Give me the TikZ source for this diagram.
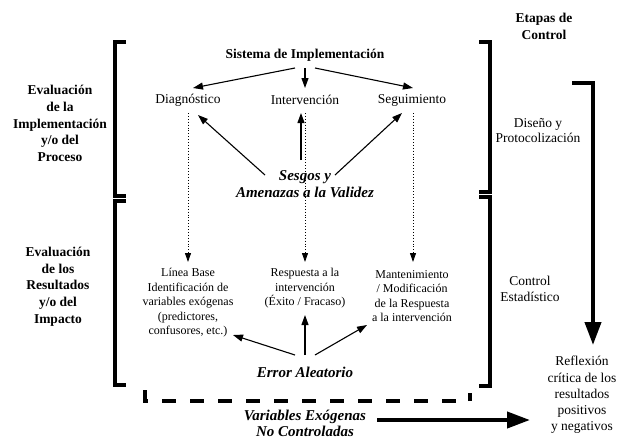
\documentclass[tikz,border=0pt]{standalone}
\usepackage{fontspec}
\setmainfont{Liberation Serif}
\usetikzlibrary{arrows.meta,calc}
\begin{document}
\begin{tikzpicture}[x=1pt,y=-1pt,
  lbl/.style={font=\fontsize{13.5}{16.7}\selectfont\bfseries, align=center, inner sep=0pt},
  txt/.style={font=\fontsize{13.5}{15.5}\selectfont, align=center, inner sep=0pt},
  smalltxt/.style={font=\fontsize{12}{14.5}\selectfont, align=center, inner sep=0pt},
  bi/.style={font=\fontsize{15}{17.5}\selectfont\bfseries\itshape, align=center, inner sep=0pt},
  arr/.style={line width=1.1pt, -{Triangle[length=10pt,width=7pt]}},
  dotarr/.style={line width=0.9pt, dotted, -{Triangle[length=9pt,width=6pt]}},
  bigarr/.style={line width=4pt, -{Triangle[length=23pt,width=16pt]}},
  brk/.style={line width=3.5pt, line join=miter, line cap=butt},
]
\useasboundingbox (0,0) rectangle (625,440);

% nodes
\node[lbl] (etapas) at (544,26.5) {Etapas de\\Control};
\node[lbl] (sis) at (305,55) {Sistema de Implementación};
\node[txt] (diag) at (188,100) {Diagnóstico};
\node[txt] (interv) at (305,100) {Intervención};
\node[txt] (segui) at (412,100) {Seguimiento};
\node[bi] (sesgos) at (305,184) {Sesgos y\\Amenazas a la Validez};
\node[lbl] (left1) at (60,123.5) {Evaluación\\de la\\Implementación\\y/o del\\Proceso};
\node[lbl] (left2) at (58,286.5) {Evaluación\\de los\\Resultados\\y/o del\\Impacto};
\node[txt] (diseno) at (538,130.5) {Diseño y\\Protocolización};
\node[txt] (control) at (530,289) {Control\\Estadístico};
\node[smalltxt] (linea) at (188,303) {Línea Base\\Identificación de\\variables exógenas\\(predictores,\\confusores, etc.)};
\node[smalltxt] (resp) at (305,288.5) {Respuesta a la\\intervención\\(Éxito / Fracaso)};
\node[smalltxt] (mant) at (412,296) {Mantenimiento\\/ Modificación\\de la Respuesta\\a la intervención};
\node[bi] (error) at (305,372) {Error Aleatorio};
\node[bi,font=\fontsize{15}{16.5}\selectfont\bfseries\itshape] (vars) at (305,423.5) {Variables Exógenas\\No Controladas};
\node[txt,font=\fontsize{13.5}{16.2}\selectfont] (refl) at (582,395) {Reflexión\\crítica de los\\resultados\\positivos\\y negativos};

% arrows from Sistema
\draw[arr] ($(sis)+(-10,13)$) -- ($(diag)+(5,-12)$);
\draw[arr] ($(sis)+(0,13)$) -- ($(interv)+(0,-12)$);
\draw[arr] ($(sis)+(10,13)$) -- ($(segui)+(1,-12)$);

% arrows from Sesgos
\draw[arr] ($(sesgos)+(-40,-9)$) -- ($(diag)+(10,15)$);
\draw[arr] ($(sesgos)+(-4,-24)$) -- ($(interv)+(-4,13)$);
\draw[arr] ($(sesgos)+(30,-9)$) -- ($(segui)+(-10,13)$);

% dotted arrows
\draw[dotarr] ($(diag)+(0,13)$) -- ($(linea)+(0,-41)$);
\draw[dotarr] ($(interv)+(0,13)$) -- ($(resp)+(0,-26.5)$);
\draw[dotarr] ($(segui)+(1,13)$) -- ($(mant)+(1,-34)$);

% arrows from Error
\draw[arr] ($(error)+(-10,-17)$) -- ($(linea)+(45,32)$);
\draw[arr] ($(error)+(0,-17)$) -- ($(resp)+(0,26.5)$);
\draw[arr] ($(error)+(10,-17)$) -- ($(mant)+(-45,29)$);

% brackets
\draw[brk] (126,42) -- (115,42) -- (115,196) -- (126,196);
\draw[brk] (126,201) -- (115,201) -- (115,385) -- (126,385);
\draw[brk] (479,42) -- (490,42) -- (490,192) -- (479,192);
\draw[brk] (479,197) -- (490,197) -- (490,386) -- (479,386);

% dashed
\draw[brk, dash pattern=on 14pt off 14pt] (145,390) -- (145,401) -- (470,401) -- (470,393);

% big arrows
\coordinate (rtop) at (572,83);
\draw[bigarr, line join=miter] (rtop) -- (593,83) -- ($(refl)+(11,-50)$);
\draw[bigarr] ($(vars)+(72,-3.5)$) -- ($(refl)+(-52,25)$);
\end{tikzpicture}
\end{document}
